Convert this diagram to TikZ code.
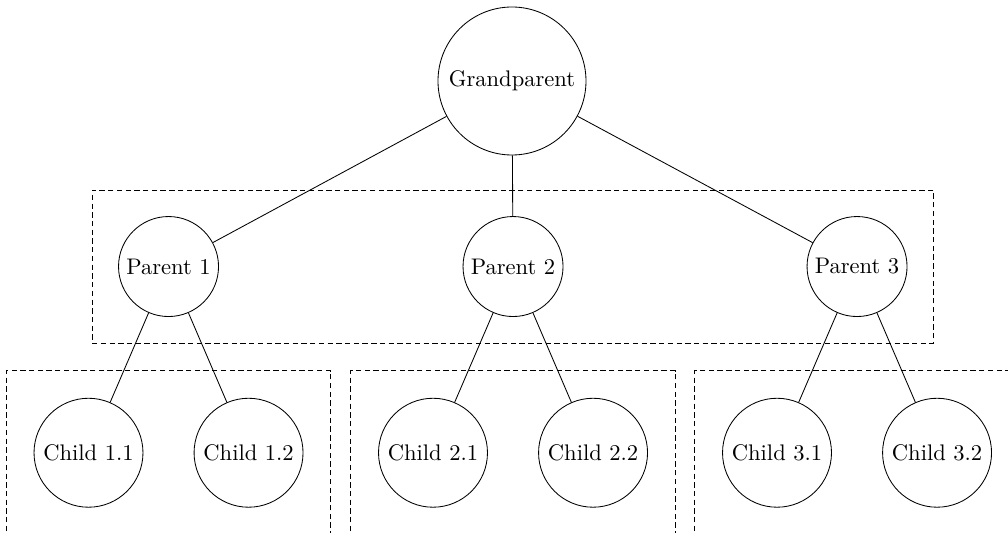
\documentclass[tikz,border=0pt]{standalone}
\usepackage{tikz}
\usetikzlibrary{fit}

\begin{document}
\begin{tikzpicture}[thin,
    person/.style={draw, circle, inner sep=0pt, font=\fontsize{10.6}{12}\selectfont},
    family/.style={draw, dash pattern=on 2.5pt off 1.6pt, inner sep=0.43cm}]
    \useasboundingbox (0,0) rectangle (16.652,8.789);
    \clip (0,0) rectangle (16.652,8.789);
    \node[person, minimum size=2.445cm] (gp) at (8.458,7.451) {Grandparent};
    \foreach \i/\x in {1/2.784, 2/8.475, 3/14.158} {
        \node[person, minimum size=1.652cm] (p\i) at (\x,4.386) {Parent \i};
        \node[person, minimum size=1.8cm] (c\i a) at (\x-1.322,1.31) {Child \i.1};
        \node[person, minimum size=1.8cm] (c\i b) at (\x+1.322,1.31) {Child \i.2};
        \node[family, inner sep=0.45cm, fit=(c\i a)(c\i b)] (kids\i) {};
        \draw (gp) -- (p\i);
        \draw (p\i) -- (c\i a);
        \draw (p\i) -- (c\i b);
    }
    \node[family, fit=(p1)(p3)] (parents) {};
\end{tikzpicture}
\end{document}
